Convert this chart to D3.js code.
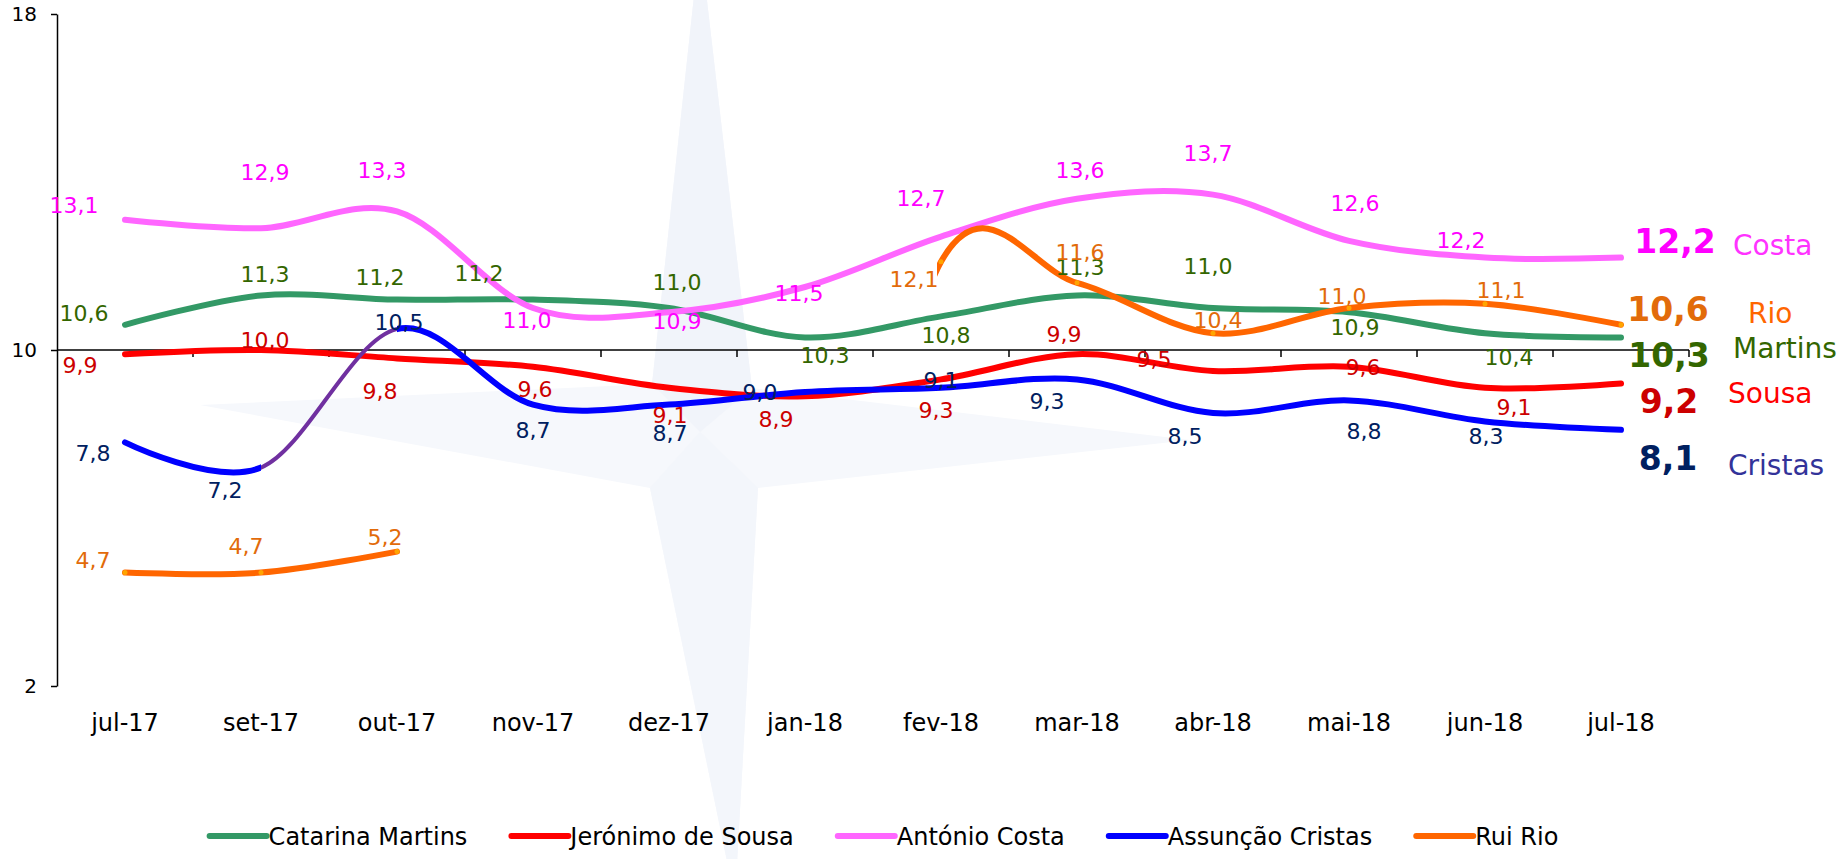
<!DOCTYPE html>
<html>
<head>
<meta charset="utf-8">
<script src="https://cdn.jsdelivr.net/npm/d3@7"></script>
<style>
  html, body { margin: 0; padding: 0; background: #fff; }
  svg { display: block; font-family: "DejaVu Sans", Verdana, sans-serif; }
</style>
</head>
<body>
<div id="chart"></div>
<script>
// data
const months = ['jul-17', 'set-17', 'out-17', 'nov-17', 'dez-17', 'jan-18',
  'fev-18', 'mar-18', 'abr-18', 'mai-18', 'jun-18', 'jul-18'];
const martins = [10.6, 11.3, 11.2, 11.2, 11.0, 10.3, 10.8, 11.3, 11.0, 10.9, 10.4, 10.3];
const sousa = [9.9, 10.0, 9.8, 9.6, 9.1, 8.9, 9.3, 9.9, 9.5, 9.6, 9.1, 9.2];
const costa = [13.1, 12.9, 13.3, 11.0, 10.9, 11.5, 12.7, 13.6, 13.7, 12.6, 12.2, 12.2];
const cristas = [7.8, 7.2, 10.5, 8.7, 8.7, 9.0, 9.1, 9.3, 8.5, 8.8, 8.3, 8.1];
const rio = [4.7, 4.7, 5.2, null, null, null, 12.1, 11.6, 10.4, 11.0, 11.1, 10.6];
const yTicks = [2, 10, 18];

// hand placed data labels (offset from the point, px)
const martinsDx = [-41, 4, -17, -54, 8, 20, 5, 3, -5, 6, 24, 48];
const martinsDy = [-12, -21, -23, -27, -26, 18, 19, -28, -42, 15, 24, 18];
const sousaDx = [-45, 4, -17, 2, 1, -29, -5, -13, -59, 14, 29, 48];
const sousaDy = [11, -10, 33, 22, 27, 23, 31, -20, -12, 0, 19, 18];
const costaDx = [-51, 4, -15, -6, 8, -6, -20, 3, -5, 6, -24, 54];
const costaDy = [-15, -56, -41, 12, 9, 6, -39, -29, -42, -38, -18, -16];
const cristasDx = [-32, -36, 2, 0, 1, -45, 0, -30, -28, 15, 1, 47];
const cristasDy = [11, 22, -7, 25, 28, 0, -8, 22, 23, 31, 15, 28];
const rioDx = [-32, -15, -12, 0, 0, 0, -27, 3, 5, -7, 16, 47];
const rioDy = [-13, -27, -15, 0, 0, 0, 17, -31, -13, -12, -14, -16];

const series = [
  { name: 'Catarina Martins', short: 'Martins', values: martins, line: '#339966', text: '#336600', nameColor: '#336600', dx: martinsDx, dy: martinsDy, nameDx: 112, nameDy: 11 },
  { name: 'Jerónimo de Sousa', short: 'Sousa', values: sousa, line: '#ff0000', text: '#cc0000', nameColor: '#ff0000', dx: sousaDx, dy: sousaDy, nameDx: 107, nameDy: 9 },
  { name: 'António Costa', short: 'Costa', values: costa, line: '#ff66ff', text: '#ff00ff', nameColor: '#ff33ff', dx: costaDx, dy: costaDy, nameDx: 112, nameDy: -13 },
  { name: 'Assunção Cristas', short: 'Cristas', values: cristas, line: '#0000ff', text: '#002060', nameColor: '#333399', dx: cristasDx, dy: cristasDy, nameDx: 107, nameDy: 35,
    highlight: { from: 1, to: 2, color: '#7030a0', width: 4 } },
  { name: 'Rui Rio', short: 'Rio', values: rio, line: '#ff6600', text: '#e26b0a', nameColor: '#ff6600', dx: rioDx, dy: rioDy, nameDx: 127, nameDy: -12, marker: '#ffa500' }
];

const W = 1845, H = 859;
const plot = { left: 57, right: 1689, top: 14, bottom: 686 };

const svg = d3.select('#chart').append('svg')
  .attr('width', W)
  .attr('height', H);
const defs = svg.append('defs');

// faint compass watermark behind the chart
svg.append('polygon')
  .attr('points', '700,-60 752,388 1190,440 758,488 735,900 650,488 200,405 652,384')
  .attr('fill', '#f6f8fc');
svg.append('polygon')
  .attr('points', '700,-60 752,388 700,432 652,384')
  .attr('fill', '#f1f4fa');
svg.append('polygon')
  .attr('points', '700,432 758,488 735,900 650,488')
  .attr('fill', '#f3f6fb');

const x = d3.scaleBand().domain(months).range([plot.left, plot.right]);
const y = d3.scaleLinear().domain([2, 18]).range([plot.bottom, plot.top]);
const xc = m => x(m) + x.bandwidth() / 2;

const comma = d3.formatLocale({ decimal: ',', thousands: '.', grouping: [3], currency: ['€', ''] }).format('.1f');

// y axis
const yAxis = svg.append('g')
  .attr('transform', `translate(${plot.left},0)`)
  .call(d3.axisLeft(y).tickValues(yTicks).tickSize(6).tickPadding(14).tickSizeOuter(0));
yAxis.selectAll('path, line').attr('stroke', '#000').attr('stroke-width', 1.5);
yAxis.selectAll('text')
  .style('font-family', '"DejaVu Sans", Verdana, sans-serif')
  .style('font-size', '20px')
  .attr('fill', '#000');

// x axis crosses at 10, labels sit at the bottom
const y10 = y(10);
svg.append('line')
  .attr('x1', plot.left).attr('x2', plot.right)
  .attr('y1', y10).attr('y2', y10)
  .attr('stroke', '#000').attr('stroke-width', 1.5);
svg.append('g').selectAll('line')
  .data(d3.range(1, months.length + 1))
  .join('line')
  .attr('x1', i => plot.left + i * x.step())
  .attr('x2', i => plot.left + i * x.step())
  .attr('y1', y10).attr('y2', y10 + 7)
  .attr('stroke', '#000').attr('stroke-width', 1.5);

const xAxis = svg.append('g')
  .attr('transform', `translate(0,${plot.bottom + 36})`)
  .call(d3.axisBottom(x).tickSize(0).tickPadding(0));
xAxis.select('.domain').remove();
xAxis.selectAll('text')
  .attr('y', 0).attr('dy', '0.36em')
  .style('font-family', '"DejaVu Sans", Verdana, sans-serif')
  .style('font-size', '24px')
  .attr('fill', '#000');

// lines
const line = d3.line()
  .x(d => xc(d.m))
  .y(d => y(d.v))
  .curve(d3.curveCardinal.tension(0));

let clipId = 0;
function clipRects(ranges) {
  const id = 'clip' + (clipId++);
  defs.append('clipPath').attr('id', id)
    .selectAll('rect').data(ranges).join('rect')
    .attr('x', r => r[0]).attr('width', r => r[1] - r[0])
    .attr('y', -100).attr('height', H + 200);
  return `url(#${id})`;
}

const linesG = svg.append('g');
series.forEach(s => {
  const pts = months.map((m, i) => ({ m, i, v: s.values[i] }));
  const runs = [];
  let cur = [];
  pts.forEach(p => {
    if (p.v == null) { if (cur.length) runs.push(cur); cur = []; }
    else cur.push(p);
  });
  if (cur.length) runs.push(cur);

  runs.forEach((run, ri) => {
    let data = run;
    let clip = null;
    if (ri > 0) {
      // like Excel, the empty cell before a restart counts as 0 for the smoothing
      const lead = { m: months[run[0].i - 1], v: 0 };
      data = [lead, ...run];
      clip = clipRects([[xc(run[0].m) - 4, W]]);
    }
    const h = s.highlight;
    if (h) {
      const xa = xc(months[h.from]), xb = xc(months[h.to]);
      linesG.append('path')
        .attr('d', line(data))
        .attr('fill', 'none')
        .attr('stroke', s.line)
        .attr('stroke-width', 6)
        .attr('stroke-linecap', 'round')
        .attr('clip-path', clipRects([[-100, xa], [xb, W + 100]]));
      linesG.append('path')
        .attr('d', line(data))
        .attr('fill', 'none')
        .attr('stroke', h.color)
        .attr('stroke-width', h.width)
        .attr('clip-path', clipRects([[xa, xb]]));
    } else {
      linesG.append('path')
        .attr('d', line(data))
        .attr('fill', 'none')
        .attr('stroke', s.line)
        .attr('stroke-width', 6)
        .attr('stroke-linecap', 'round')
        .attr('clip-path', clip);
    }
  });

  if (s.marker) {
    linesG.append('g').selectAll('circle')
      .data(pts.filter(p => p.v != null))
      .join('circle')
      .attr('cx', p => xc(p.m))
      .attr('cy', p => y(p.v))
      .attr('r', 2.5)
      .attr('fill', s.marker);
  }
});

// data labels
const labelsG = svg.append('g');
series.forEach(s => {
  const last = months.length - 1;
  labelsG.append('g').selectAll('text')
    .data(months.map((m, i) => ({ m, i, v: s.values[i] })).filter(p => p.v != null))
    .join('text')
    .attr('x', p => xc(p.m) + s.dx[p.i])
    .attr('y', p => y(p.v) + s.dy[p.i])
    .attr('dy', '0.36em')
    .attr('text-anchor', 'middle')
    .attr('fill', s.text)
    .style('font-size', p => p.i === last ? '33px' : '22px')
    .style('font-weight', p => p.i === last ? 'bold' : 'normal')
    .text(p => comma(p.v));

  labelsG.append('text')
    .attr('x', xc(months[last]) + s.nameDx)
    .attr('y', y(s.values[last]) + s.nameDy)
    .attr('dy', '0.36em')
    .attr('fill', s.nameColor)
    .style('font-size', '28px')
    .text(s.short);
});

// legend
const legend = svg.append('g').attr('transform', 'translate(0,836)');
const items = legend.selectAll('g').data(series).join('g');
items.append('line')
  .attr('x1', 0).attr('x2', 57)
  .attr('stroke', d => d.line)
  .attr('stroke-width', 6)
  .attr('stroke-linecap', 'round');
items.append('text')
  .attr('x', 59)
  .attr('dy', '0.36em')
  .style('font-size', '24px')
  .attr('fill', '#000')
  .text(d => d.name);

let widths = [];
items.each(function () { widths.push(59 + d3.select(this).select('text').node().getComputedTextLength()); });
const gap = 44;
const total = d3.sum(widths) + gap * (widths.length - 1);
let pos = 884 - total / 2;
items.attr('transform', (d, i) => {
  const t = `translate(${pos},0)`;
  pos += widths[i] + gap;
  return t;
});
</script>
</body>
</html>
